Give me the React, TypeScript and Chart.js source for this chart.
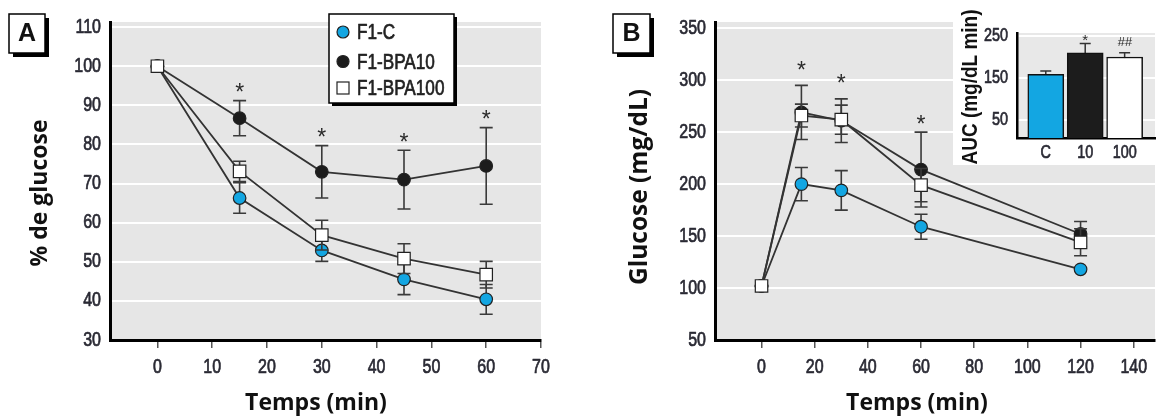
import React, { useEffect, useRef } from 'react';
import { Chart, registerables } from 'chart.js';
Chart.register(...registerables);

// ---------- Panel A data (% de glucose) ----------
const A_TIMES = [0, 15, 30, 45, 60];
const A_C = [100, 66.3, 52.9, 45.5, 40.4];
const A_C_ERR = [0, 3.9, 2.8, 3.9, 3.8];
const A_BPA10 = [100, 86.7, 73.0, 71.0, 74.5];
const A_BPA10_ERR = [0, 4.5, 6.7, 7.5, 9.8];
const A_BPA100 = [100, 73.1, 56.8, 50.8, 46.7];
const A_BPA100_ERR = [0, 2.6, 3.8, 3.8, 3.4];
const A_STAR_T = [15, 30, 45, 60];
const A_STAR_Y = [94.7, 83.1, 81.7, 87.7];
const A_X_TICKS = [0, 10, 20, 30, 40, 50, 60, 70];
const A_Y_TICKS = [30, 40, 50, 60, 70, 80, 90, 100, 110];

// ---------- Panel B data (Glucose mg/dL) ----------
const B_TIMES = [0, 15, 30, 60, 120];
const B_C = [102, 200, 194, 159, 118];
const B_C_ERR = [0, 16, 19, 12, 0];
const B_BPA10 = [102, 269, 261, 214, 152];
const B_BPA10_ERR = [0, 26, 21, 36, 12];
const B_BPA100 = [102, 266, 262, 199, 144];
const B_BPA100_ERR = [0, 11, 14, 16, 13];
const B_STAR_T = [15, 30, 60];
const B_STAR_Y = [314.5, 302, 262.3];
const B_X_TICKS = [0, 20, 40, 60, 80, 100, 120, 140];
const B_Y_TICKS = [50, 100, 150, 200, 250, 300, 350];

// ---------- Inset (AUC) ----------
const AUC_LABELS = ['C', '10', '100'];
const AUC_VALUES = [159, 210, 200];
const AUC_ERR = [8, 22, 10];
const AUC_MARKS = ['', '*', '##'];
const AUC_MARK_Y = [0, 249, 243];
const AUC_Y_TICKS = [50, 150, 250];

const SERIES_NAMES = ['F1-C', 'F1-BPA10', 'F1-BPA100'];

const BLUE = '#13a6e2';
const BLACK = '#1c1c1c';
const WHITE = '#ffffff';
const LINE = '#333333';
const BG = '#e6e6e6';
const TICK_COLOR = '#2a2a34';
const SANS = "'Liberation Sans', Arial, sans-serif";
const TITLE_FONT = "bold 23px 'Open Sans', 'Noto Sans', sans-serif";
const SQUEEZE = 0.8;

function condensedText(ctx: CanvasRenderingContext2D, text: string, x: number, y: number, font: string,
  color: string, align: CanvasTextAlign, sx = SQUEEZE, rotate = 0, thicken = 0) {
  ctx.save();
  ctx.translate(x, y);
  if (rotate) ctx.rotate(rotate);
  ctx.scale(sx, 1);
  ctx.font = font;
  ctx.fillStyle = color;
  ctx.textAlign = align;
  ctx.textBaseline = 'middle';
  ctx.fillText(text, 0, 0);
  if (thicken) {
    ctx.strokeStyle = color;
    ctx.lineWidth = thicken;
    ctx.lineJoin = 'round';
    ctx.strokeText(text, 0, 0);
  }
  ctx.restore();
}

function drawStar(ctx: CanvasRenderingContext2D, text: string, x: number, y: number, size: number, italic = false) {
  ctx.save();
  ctx.fillStyle = '#2a2a2a';
  ctx.font = `${italic ? 'italic ' : ''}${size}px ${SANS}`;
  ctx.textAlign = 'center';
  ctx.textBaseline = 'alphabetic';
  ctx.fillText(text, x, y + size * 0.55);
  ctx.restore();
}

function letterBox(ctx: CanvasRenderingContext2D, x: number, y: number, w: number, h: number, letter: string) {
  ctx.save();
  ctx.fillStyle = '#000';
  ctx.fillRect(x + 4, y + 4, w, h);
  ctx.fillStyle = '#fff';
  ctx.fillRect(x, y, w, h);
  ctx.strokeStyle = '#000';
  ctx.lineWidth = 1.5;
  ctx.strokeRect(x, y, w, h);
  ctx.fillStyle = '#111';
  ctx.font = `bold 25px ${SANS}`;
  ctx.textAlign = 'center';
  ctx.textBaseline = 'middle';
  ctx.fillText(letter, x + w / 2, y + h / 2 + 1);
  ctx.restore();
}

function drawMarker(ctx: CanvasRenderingContext2D, kind: number, x: number, y: number) {
  ctx.save();
  ctx.lineWidth = 1.2;
  ctx.strokeStyle = '#222';
  if (kind === 2) {
    ctx.fillStyle = WHITE;
    ctx.fillRect(x - 6, y - 6, 12, 12);
    ctx.strokeRect(x - 6, y - 6, 12, 12);
  } else {
    ctx.fillStyle = kind === 0 ? BLUE : BLACK;
    ctx.beginPath();
    ctx.arc(x, y, 6, 0, Math.PI * 2);
    ctx.fill();
    ctx.stroke();
  }
  ctx.restore();
}

function makeDatasets(times: number[], series: number[][], errs: number[][]) {
  const fills = [BLUE, BLACK, WHITE];
  const styles = ['circle', 'circle', 'rect'];
  const radii = [6.3, 6.3, 8.8];
  return series.map((vals, i) => ({
    label: SERIES_NAMES[i],
    data: times.map((t, j) => ({ x: t, y: vals[j] })),
    errors: errs[i],
    showLine: true,
    borderColor: LINE,
    borderWidth: 1.8,
    pointStyle: styles[i],
    pointRadius: radii[i],
    pointBackgroundColor: fills[i],
    pointBorderColor: '#222',
    pointBorderWidth: 1.2,
    order: 3 - i,
  }));
}

// draws tick labels from the scale's own ticks, in a condensed face
function drawTickLabels(chart: any, size: number, xLabelY: number, xFormatter?: (v: number) => string) {
  const ctx = chart.ctx;
  const xs = chart.scales.x;
  const ys = chart.scales.y;
  const font = `${size}px ${SANS}`;
  ys.ticks.forEach((t: any) => {
    condensedText(ctx, String(t.value), ys.right - 9, ys.getPixelForValue(t.value), font, TICK_COLOR, 'right', SQUEEZE, 0, 0.7);
  });
  xs.ticks.forEach((t: any) => {
    const label = xFormatter ? xFormatter(t.value) : String(t.value);
    condensedText(ctx, label, xs.getPixelForValue(t.value), xLabelY, font, TICK_COLOR, 'center', SQUEEZE, 0, 0.7);
  });
}

function panelPlugin(cfg: any) {
  return {
    id: 'panel' + cfg.letter,
    beforeDraw(chart: any) {
      const { ctx, chartArea: a } = chart;
      ctx.save();
      ctx.fillStyle = BG;
      ctx.fillRect(a.left, a.top, a.right - a.left, a.bottom - a.top);
      ctx.restore();
    },
    beforeDatasetDraw(chart: any, args: any) {
      const ds = chart.data.datasets[args.index];
      const xs = chart.scales.x;
      const ys = chart.scales.y;
      const ctx = chart.ctx;
      ctx.save();
      ctx.strokeStyle = '#3a3a3a';
      ctx.lineWidth = 1.6;
      ds.data.forEach((p: any, j: number) => {
        const e = ds.errors[j];
        if (!e) return;
        const x = xs.getPixelForValue(p.x);
        const y1 = ys.getPixelForValue(p.y + e);
        const y2 = ys.getPixelForValue(p.y - e);
        ctx.beginPath();
        ctx.moveTo(x, y1); ctx.lineTo(x, y2);
        ctx.moveTo(x - 6.5, y1); ctx.lineTo(x + 6.5, y1);
        ctx.moveTo(x - 6.5, y2); ctx.lineTo(x + 6.5, y2);
        ctx.stroke();
      });
      ctx.restore();
    },
    afterDraw(chart: any) {
      const ctx = chart.ctx;
      const xs = chart.scales.x;
      const ys = chart.scales.y;
      drawTickLabels(chart, 20, chart.chartArea.bottom + 27);
      cfg.starT.forEach((t: number, i: number) => {
        drawStar(ctx, '*', xs.getPixelForValue(t), ys.getPixelForValue(cfg.starY[i]), 23);
      });
      // axis titles
      ctx.save();
      ctx.fillStyle = '#111';
      ctx.font = TITLE_FONT;
      ctx.textAlign = 'center';
      ctx.textBaseline = 'middle';
      ctx.fillText('Temps (min)', cfg.xTitle[0], cfg.xTitle[1]);
      ctx.translate(cfg.yTitle[0], cfg.yTitle[1]);
      ctx.rotate(-Math.PI / 2);
      ctx.font = cfg.yTitleFont;
      ctx.fillText(cfg.yTitleText, 0, 0);
      ctx.restore();
      letterBox(ctx, cfg.box[0], cfg.box[1], cfg.box[2], cfg.box[3], cfg.letter);
      if (cfg.legend) {
        const [lx, ly, lw, lh] = cfg.legend;
        ctx.save();
        ctx.fillStyle = '#000';
        ctx.fillRect(lx + 3, ly + 3, lw, lh);
        ctx.fillStyle = '#fff';
        ctx.fillRect(lx, ly, lw, lh);
        ctx.strokeStyle = '#000';
        ctx.lineWidth = 1.5;
        ctx.strokeRect(lx, ly, lw, lh);
        ctx.restore();
        const rows = [18, 47.5, 74];
        SERIES_NAMES.forEach((n, i) => {
          drawMarker(ctx, i, lx + 14, ly + rows[i]);
          condensedText(ctx, n, lx + 28, ly + rows[i] + 1, `22px ${SANS}`, '#222', 'left', 0.78, 0, 0.7);
        });
      }
    },
  };
}

function axes(xmin: number, xmax: number, xticks: number[], ymin: number, ymax: number, yticks: number[], yWidth: number) {
  return {
    x: {
      type: 'linear',
      min: xmin,
      max: xmax,
      afterBuildTicks: (s: any) => { s.ticks = xticks.map((v) => ({ value: v })); },
      afterFit: (s: any) => { s.height = 77; },
      grid: { drawOnChartArea: false, drawTicks: true, tickLength: 8, color: '#555', lineWidth: 1.5 },
      border: { color: '#000', width: 3 },
      ticks: { display: false },
    },
    y: {
      type: 'linear',
      min: ymin,
      max: ymax,
      afterBuildTicks: (s: any) => { s.ticks = yticks.map((v) => ({ value: v })); },
      afterFit: (s: any) => { s.width = yWidth; },
      grid: { color: '#ffffff', lineWidth: 2, drawTicks: false },
      border: { color: '#000', width: 3 },
      ticks: { display: false },
    },
  };
}

const baseOptions = {
  responsive: false,
  animation: false,
  events: [],
  plugins: { legend: { display: false }, tooltip: { enabled: false } },
};

export default function App() {
  const aRef = useRef<HTMLCanvasElement>(null);
  const bRef = useRef<HTMLCanvasElement>(null);
  const cRef = useRef<HTMLCanvasElement>(null);

  useEffect(() => {
    document.body.style.margin = '0';
    const chartA = new Chart(aRef.current as HTMLCanvasElement, {
      type: 'scatter',
      data: { datasets: makeDatasets(A_TIMES, [A_C, A_BPA10, A_BPA100], [A_C_ERR, A_BPA10_ERR, A_BPA100_ERR]) as any },
      options: {
        ...baseOptions,
        layout: { padding: { top: 22, right: 19, left: 0, bottom: 0 } },
        scales: axes(-8.65, 70, A_X_TICKS, 30, 111.3, A_Y_TICKS, 110) as any,
      } as any,
      plugins: [panelPlugin({
        letter: 'A', starT: A_STAR_T, starY: A_STAR_Y,
        xTitle: [316, 403], yTitle: [40, 193], yTitleText: '% de glucose', yTitleFont: TITLE_FONT,
        box: [9, 14, 36, 39], legend: [329, 14, 125, 89],
      })],
    });
    const chartB = new Chart(bRef.current as HTMLCanvasElement, {
      type: 'scatter',
      data: { datasets: makeDatasets(B_TIMES, [B_C, B_BPA10, B_BPA100], [B_C_ERR, B_BPA10_ERR, B_BPA100_ERR]) as any },
      options: {
        ...baseOptions,
        layout: { padding: { top: 22, right: 0, left: 0, bottom: 0 } },
        scales: axes(-17.5, 148, B_X_TICKS, 50, 356, B_Y_TICKS, 135) as any,
      } as any,
      plugins: [panelPlugin({
        letter: 'B', starT: B_STAR_T, starY: B_STAR_Y,
        xTitle: [337, 403], yTitle: [60, 187], yTitleText: 'Glucose (mg/dL)',
        yTitleFont: "bold 24.5px 'Open Sans', 'Noto Sans', sans-serif",
        box: [33, 14, 37, 39], legend: null,
      })],
    });
    const insetPlugin = {
      id: 'inset',
      beforeDraw(chart: any) {
        const { ctx, chartArea: a } = chart;
        ctx.save();
        ctx.fillStyle = '#e8e8e8';
        ctx.fillRect(a.left, a.top, a.right - a.left, a.bottom - a.top);
        ctx.restore();
      },
      beforeDatasetsDraw(chart: any) {
        const ctx = chart.ctx;
        const xs = chart.scales.x;
        const ys = chart.scales.y;
        ctx.save();
        ctx.strokeStyle = '#333';
        ctx.lineWidth = 1.5;
        AUC_VALUES.forEach((v, i) => {
          const x = xs.getPixelForValue(i);
          const y1 = ys.getPixelForValue(v + AUC_ERR[i]);
          const y2 = ys.getPixelForValue(v - AUC_ERR[i]);
          ctx.beginPath();
          ctx.moveTo(x, y1); ctx.lineTo(x, y2);
          ctx.moveTo(x - 5.5, y1); ctx.lineTo(x + 5.5, y1);
          ctx.stroke();
        });
        ctx.restore();
      },
      afterDraw(chart: any) {
        const ctx = chart.ctx;
        const xs = chart.scales.x;
        const ys = chart.scales.y;
        drawTickLabels(chart, 18, chart.chartArea.bottom + 15, (v) => AUC_LABELS[v]);
        AUC_MARKS.forEach((m, i) => {
          if (!m) return;
          drawStar(ctx, m, xs.getPixelForValue(i), ys.getPixelForValue(AUC_MARK_Y[i]), m === '*' ? 15 : 13, m !== '*');
        });
        // rotated y title fitted to its reference length
        ctx.save();
        ctx.font = `bold 22px ${SANS}`;
        const w = ctx.measureText('AUC (mg/dL min)').width;
        ctx.restore();
        condensedText(ctx, 'AUC (mg/dL min)', 18, 87, `bold 22px ${SANS}`, '#111', 'center', 155 / w, -Math.PI / 2);
      },
    };
    const chartC = new Chart(cRef.current as HTMLCanvasElement, {
      type: 'bar',
      data: {
        datasets: [{
          label: 'AUC',
          data: AUC_VALUES.map((v, i) => ({ x: i, y: v })),
          backgroundColor: [BLUE, BLACK, WHITE],
          borderColor: '#111',
          borderWidth: 1.5,
          barThickness: 36,
        }] as any,
      },
      options: {
        ...baseOptions,
        layout: { padding: { top: 33, right: 5, left: 0, bottom: 0 } },
        scales: {
          x: {
            type: 'linear',
            min: -0.73,
            max: 2.77,
            offset: false,
            afterBuildTicks: (s: any) => { s.ticks = AUC_LABELS.map((_, i) => ({ value: i })); },
            afterFit: (s: any) => { s.height = 27; },
            grid: { drawOnChartArea: false, drawTicks: false },
            border: { color: '#000', width: 2.5 },
            ticks: { display: false },
          },
          y: {
            type: 'linear',
            min: 8,
            max: 257,
            afterBuildTicks: (s: any) => { s.ticks = AUC_Y_TICKS.map((v) => ({ value: v })); },
            afterFit: (s: any) => { s.width = 64; },
            grid: { color: '#ffffff', lineWidth: 2, drawTicks: false },
            border: { color: '#000', width: 2.5 },
            ticks: { display: false },
          },
        },
      } as any,
      plugins: [insetPlugin],
    });
    return () => { chartA.destroy(); chartB.destroy(); chartC.destroy(); };
  }, []);

  return (
    <div style={{ position: 'relative', width: 1165, height: 417, background: '#fff', overflow: 'hidden' }}>
      <canvas ref={aRef} width={560} height={417} style={{ position: 'absolute', left: 0, top: 0 }} />
      <canvas ref={bRef} width={585} height={417} style={{ position: 'absolute', left: 580, top: 0 }} />
      <canvas ref={cRef} width={207} height={165} style={{ position: 'absolute', left: 953, top: 0, background: '#fff' }} />
    </div>
  );
}
